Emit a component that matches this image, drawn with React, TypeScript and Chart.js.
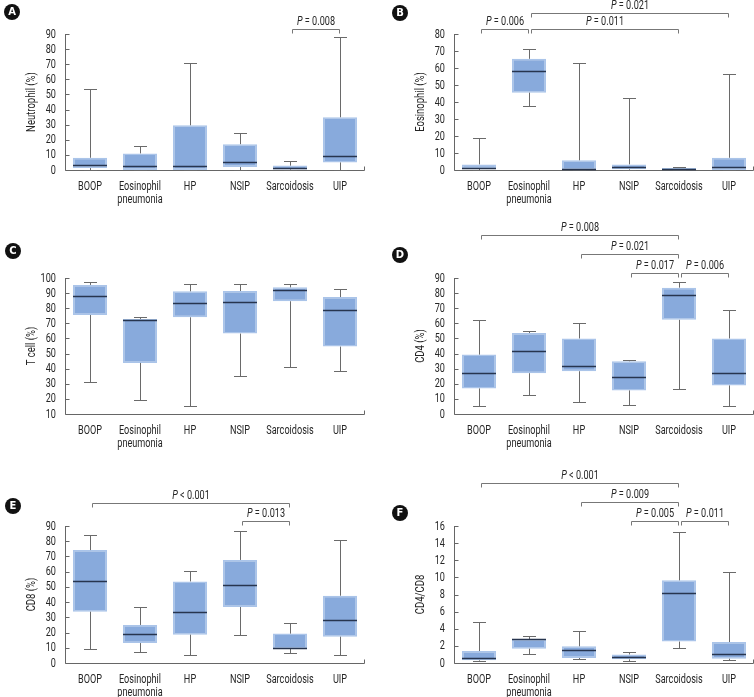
import React, { useEffect, useRef } from 'react';
import { Chart, registerables } from 'chart.js';

Chart.register(...registerables);

const categories: string[][] = [['BOOP'], ['Eosinophil', 'pneumonia'], ['HP'], ['NSIP'], ['Sarcoidosis'], ['UIP']];

// Neutrophil (%)
const neutrophilMin = [0, 0, 0, 0, 0, 0];
const neutrophilQ1 = [1.3, 0, 0, 2, 0.4, 5];
const neutrophilMedian = [3.3, 2.9, 2.9, 5.3, 1.3, 9.4];
const neutrophilQ3 = [8.1, 11, 29.6, 17.1, 2.9, 34.9];
const neutrophilMax = [53.6, 16, 70.5, 24.4, 6.1, 88];
const neutrophilTests = [{ from: 4, to: 5, p: '0.008', op: '=', level: 0 }];

// Eosinophil (%)
const eosinophilMin = [0, 37.7, 0, 0, 0, 0];
const eosinophilQ1 = [1, 45.5, 0, 0.4, 0, 0];
const eosinophilMedian = [1.4, 58.3, 0.6, 1.6, 0.6, 2];
const eosinophilQ3 = [3.3, 65.4, 5.7, 3.3, 1.2, 7.2];
const eosinophilMax = [18.7, 71, 62.8, 42.1, 2, 56.6];
const eosinophilTests = [
  { from: 0, to: 1, p: '0.006', op: '=', level: 0 },
  { from: 1, to: 4, p: '0.011', op: '=', level: 0 },
  { from: 1, to: 5, p: '0.021', op: '=', level: 1 },
];

// T cell (%)
const tcellMin = [31.4, 19, 15.3, 35.1, 41.1, 38.7];
const tcellQ1 = [75.5, 43.8, 74, 63.2, 84.6, 54.6];
const tcellMedian = [88.1, 72, 83.7, 84.1, 92.1, 78.8];
const tcellQ3 = [95.4, 72.9, 91.2, 91.4, 93.8, 87.4];
const tcellMax = [97.6, 74.2, 96, 96, 96, 92.5];
const tcellTests: { from: number; to: number; p: string; op: string; level: number }[] = [];

// CD4 (%)
const cd4Min = [5, 12.5, 7.9, 5.7, 16.7, 5.5];
const cd4Q1 = [16.9, 27, 28.3, 15.6, 62.3, 18.9];
const cd4Median = [27, 41.5, 31.6, 24.4, 79, 27];
const cd4Q3 = [39.3, 53.6, 50, 34.9, 83.6, 50];
const cd4Max = [61.9, 55.1, 60.4, 35.6, 87.6, 69.1];
const cd4Tests = [
  { from: 3, to: 4, p: '0.017', op: '=', level: 0 },
  { from: 4, to: 5, p: '0.006', op: '=', level: 0 },
  { from: 2, to: 4, p: '0.021', op: '=', level: 1 },
  { from: 0, to: 4, p: '0.008', op: '=', level: 2 },
];

// CD8 (%)
const cd8Min = [9, 7, 5, 18.2, 6.4, 5];
const cd8Q1 = [33.7, 13.1, 18.6, 36.8, 9.2, 17.3];
const cd8Median = [53.6, 19, 33.5, 51, 10.1, 28.5];
const cd8Q3 = [74.2, 25, 53.6, 67.7, 19.3, 44.2];
const cd8Max = [84.3, 36.6, 60.2, 86.9, 26.5, 81];
const cd8Tests = [
  { from: 3, to: 4, p: '0.013', op: '=', level: 0 },
  { from: 0, to: 4, p: '0.001', op: '<', level: 1 },
];

// CD4/CD8
const ratioMin = [0.2, 1.05, 0.47, 0.2, 1.71, 0.31];
const ratioQ1 = [0.31, 1.67, 0.58, 0.43, 2.5, 0.5];
const ratioMedian = [0.55, 2.78, 1.48, 0.74, 8.14, 1.0];
const ratioQ3 = [1.4, 2.8, 1.95, 1.0, 9.65, 2.45];
const ratioMax = [4.83, 3.15, 3.7, 1.25, 15.26, 10.67];
const ratioTests = [
  { from: 3, to: 4, p: '0.005', op: '=', level: 0 },
  { from: 4, to: 5, p: '0.011', op: '=', level: 0 },
  { from: 2, to: 4, p: '0.009', op: '=', level: 1 },
  { from: 0, to: 4, p: '0.001', op: '<', level: 2 },
];

const FONT = "Roboto, 'Liberation Sans', sans-serif";
const SX = 0.76; // horizontal condensing of the narrow typeface
const BOX_FILL = '#88aadc';
const BOX_BORDER = '#aac4e9';
const MEDIAN = '#27354f';
const WHISKER = '#6a6a6a';
const AXIS = '#666666';
const TEXT = '#262626';

type Test = { from: number; to: number; p: string; op: string; level: number };
type PanelSpec = {
  letter: string;
  title: string;
  yMin: number;
  yMax: number;
  step: number;
  lo: number[];
  q1: number[];
  med: number[];
  q3: number[];
  hi: number[];
  tests: Test[];
  gap: number;
  left: number;
  top: number;
  width: number;
  height: number;
  area: { left: number; right: number; top: number; bottom: number };
  badge: { x: number; y: number };
};

const panels: PanelSpec[] = [
  {
    letter: 'A', title: 'Neutrophil (%)', yMin: 0, yMax: 90, step: 10,
    lo: neutrophilMin, q1: neutrophilQ1, med: neutrophilMedian, q3: neutrophilQ3, hi: neutrophilMax, tests: neutrophilTests, gap: 19,
    left: 0, top: 0, width: 377, height: 230, area: { left: 65, right: 365, top: 34, bottom: 170 }, badge: { x: 12, y: 12 },
  },
  {
    letter: 'B', title: 'Eosinophil (%)', yMin: 0, yMax: 80, step: 10,
    lo: eosinophilMin, q1: eosinophilQ1, med: eosinophilMedian, q3: eosinophilQ3, hi: eosinophilMax, tests: eosinophilTests, gap: 16,
    left: 377, top: 0, width: 377, height: 230, area: { left: 77, right: 377, top: 34, bottom: 170 }, badge: { x: 400, y: 13 },
  },
  {
    letter: 'C', title: 'T cell (%)', yMin: 10, yMax: 100, step: 10,
    lo: tcellMin, q1: tcellQ1, med: tcellMedian, q3: tcellQ3, hi: tcellMax, tests: tcellTests, gap: 19,
    left: 0, top: 230, width: 377, height: 230, area: { left: 65, right: 365, top: 48, bottom: 184 }, badge: { x: 13, y: 251 },
  },
  {
    letter: 'D', title: 'CD4 (%)', yMin: 0, yMax: 90, step: 10,
    lo: cd4Min, q1: cd4Q1, med: cd4Median, q3: cd4Q3, hi: cd4Max, tests: cd4Tests, gap: 19,
    left: 377, top: 212, width: 377, height: 248, area: { left: 77, right: 377, top: 66, bottom: 202 }, badge: { x: 400, y: 255 },
  },
  {
    letter: 'E', title: 'CD8 (%)', yMin: 0, yMax: 90, step: 10,
    lo: cd8Min, q1: cd8Q1, med: cd8Median, q3: cd8Q3, hi: cd8Max, tests: cd8Tests, gap: 18,
    left: 0, top: 460, width: 377, height: 237, area: { left: 65, right: 365, top: 66, bottom: 203 }, badge: { x: 13, y: 506 },
  },
  {
    letter: 'F', title: 'CD4/CD8', yMin: 0, yMax: 16, step: 2,
    lo: ratioMin, q1: ratioQ1, med: ratioMedian, q3: ratioQ3, hi: ratioMax, tests: ratioTests, gap: 19,
    left: 377, top: 460, width: 377, height: 237, area: { left: 77, right: 377, top: 66, bottom: 203 }, badge: { x: 400, y: 513 },
  },
];

function narrowText(ctx: any, text: string, x: number, y: number, align: string, baseline: string, font: string) {
  ctx.save();
  ctx.translate(x, y);
  ctx.scale(SX, 1);
  ctx.font = font;
  ctx.textAlign = align;
  ctx.textBaseline = baseline;
  ctx.fillText(text, 0, 0);
  ctx.restore();
}

function makePlugin(spec: PanelSpec) {
  return {
    id: 'boxExtras' + spec.letter,
    afterDatasetsDraw(chart: any) {
      const { ctx, chartArea } = chart;
      const x = chart.scales.x;
      const y = chart.scales.y;
      const meta = chart.getDatasetMeta(0);
      ctx.save();
      // axes
      ctx.strokeStyle = AXIS;
      ctx.lineWidth = 1;
      ctx.beginPath();
      const lx = Math.round(chartArea.left) + 0.5;
      const by = Math.round(chartArea.bottom) + 0.5;
      const rx = Math.round(chartArea.right) - 0.5;
      ctx.moveTo(lx, Math.round(chartArea.top));
      ctx.lineTo(lx, by);
      ctx.lineTo(rx, by);
      ctx.lineTo(rx, by - 4);
      y.ticks.forEach((t: any) => {
        const py = Math.round(y.getPixelForValue(t.value)) + 0.5;
        ctx.moveTo(lx, py);
        ctx.lineTo(lx + 4, py);
      });
      ctx.stroke();

      // whiskers
      ctx.strokeStyle = WHISKER;
      ctx.lineWidth = 1;
      spec.hi.forEach((_v, i) => {
        const cx = Math.round(x.getPixelForValue(i)) + 0.5;
        const yHi = Math.round(y.getPixelForValue(spec.hi[i])) + 0.5;
        const yQ3 = y.getPixelForValue(spec.q3[i]);
        const yQ1 = y.getPixelForValue(spec.q1[i]);
        const yLo = Math.round(y.getPixelForValue(spec.lo[i])) + 0.5;
        ctx.beginPath();
        ctx.moveTo(cx, yHi);
        ctx.lineTo(cx, yQ3);
        ctx.moveTo(cx - 6.5, yHi);
        ctx.lineTo(cx + 6.5, yHi);
        ctx.moveTo(cx, yQ1);
        ctx.lineTo(cx, yLo);
        ctx.moveTo(cx - 6.5, yLo);
        ctx.lineTo(cx + 6.5, yLo);
        ctx.stroke();
      });

      // medians
      ctx.strokeStyle = MEDIAN;
      ctx.lineWidth = 1.3;
      spec.med.forEach((m, i) => {
        const el = meta.data[i];
        const w = el.width;
        const cx = x.getPixelForValue(i);
        const py = Math.round(y.getPixelForValue(m)) + 0.5;
        ctx.beginPath();
        ctx.moveTo(cx - w / 2, py);
        ctx.lineTo(cx + w / 2, py);
        ctx.stroke();
      });

      ctx.fillStyle = TEXT;
      // y tick labels
      y.ticks.forEach((t: any) => {
        const py = y.getPixelForValue(t.value);
        narrowText(ctx, String(t.value), chartArea.left - 9, py + 0.5, 'right', 'middle', `12px ${FONT}`);
      });
      // x tick labels
      const labels = x.getLabels();
      labels.forEach((lab: any, i: number) => {
        const cx = x.getPixelForValue(i);
        const lines = Array.isArray(lab) ? lab : [lab];
        lines.forEach((ln: string, k: number) => {
          narrowText(ctx, ln, cx, chartArea.bottom + 19.5 + k * 13.5, 'center', 'alphabetic', `12px ${FONT}`);
        });
      });

      // y title
      ctx.save();
      ctx.translate(chartArea.left - 33, (chartArea.top + chartArea.bottom) / 2);
      ctx.rotate(-Math.PI / 2);
      ctx.scale(SX, 1);
      ctx.font = `12.5px ${FONT}`;
      ctx.textAlign = 'center';
      ctx.textBaseline = 'middle';
      ctx.fillText(spec.title, 0, 0);
      ctx.restore();

      // significance brackets
      spec.tests.forEach((t) => {
        const yy = Math.round(chartArea.top - 5 - t.level * spec.gap) + 0.5;
        const x1 = Math.round(x.getPixelForValue(t.from) + 1.5) + 0.5;
        const x2 = Math.round(x.getPixelForValue(t.to) - 1.5) + 0.5;
        ctx.strokeStyle = '#777777';
        ctx.lineWidth = 1;
        ctx.beginPath();
        ctx.moveTo(x1, yy + 4);
        ctx.lineTo(x1, yy);
        ctx.lineTo(x2, yy);
        ctx.lineTo(x2, yy + 4);
        ctx.stroke();
        const italic = `italic 12px ${FONT}`;
        const normal = `12px ${FONT}`;
        const rest = ` ${t.op} ${t.p}`;
        ctx.font = italic;
        const wp = ctx.measureText('P').width * SX;
        ctx.font = normal;
        const wr = ctx.measureText(rest).width * SX;
        const startX = (x1 + x2) / 2 - (wp + wr) / 2;
        ctx.fillStyle = TEXT;
        narrowText(ctx, 'P', startX, yy - 8, 'left', 'middle', italic);
        narrowText(ctx, rest, startX + wp, yy - 8, 'left', 'middle', normal);
      });
      ctx.restore();
    },
  };
}

function BoxPanel({ spec }: { spec: PanelSpec }) {
  const ref = useRef<HTMLCanvasElement | null>(null);
  useEffect(() => {
    if (!ref.current) return;
    const a = spec.area;
    const chart = new Chart(ref.current, {
      type: 'bar',
      data: {
        labels: categories as any,
        datasets: [
          {
            data: spec.q1.map((v, i) => [v, spec.q3[i]]) as any,
            backgroundColor: BOX_FILL,
            borderColor: BOX_BORDER,
            borderWidth: 1.5,
            borderSkipped: false,
            barPercentage: 0.68,
            categoryPercentage: 1,
          },
        ],
      },
      options: {
        responsive: false,
        animation: false,
        events: [],
        layout: {
          autoPadding: false,
          padding: { left: 0, top: a.top, right: spec.width - a.right, bottom: 0 },
        },
        plugins: { legend: { display: false }, tooltip: { enabled: false }, title: { display: false } },
        scales: {
          x: {
            type: 'category',
            offset: true,
            grid: { display: false, drawTicks: false },
            border: { display: false },
            ticks: { display: false, autoSkip: false, maxRotation: 0, minRotation: 0 },
            afterFit: (scale: any) => {
              scale.height = spec.height - a.bottom;
            },
          },
          y: {
            type: 'linear',
            min: spec.yMin,
            max: spec.yMax,
            grid: { display: false, drawTicks: false },
            border: { display: false },
            ticks: { display: false, stepSize: spec.step, autoSkip: false },
            afterFit: (scale: any) => {
              scale.width = a.left;
            },
          },
        },
      },
      plugins: [makePlugin(spec)],
    } as any);
    return () => chart.destroy();
  }, [spec]);
  return (
    <canvas
      ref={ref}
      width={spec.width}
      height={spec.height}
      style={{ position: 'absolute', left: spec.left, top: spec.top, width: spec.width, height: spec.height }}
    />
  );
}

export default function App() {
  return (
    <div style={{ position: 'absolute', left: 0, top: 0, width: 754, height: 697, background: '#ffffff', overflow: 'hidden' }}>
      {panels.map((p) => (
        <BoxPanel key={p.letter} spec={p} />
      ))}
      {panels.map((p) => (
        <div
          key={'b' + p.letter}
          style={{
            position: 'absolute',
            left: p.badge.x - 8,
            top: p.badge.y - 8,
            width: 16,
            height: 16,
            borderRadius: 8,
            background: '#111',
            color: '#fff',
            fontFamily: "'DejaVu Sans', sans-serif",
            fontWeight: 'bold',
            fontSize: 10,
            lineHeight: '16px',
            textAlign: 'center',
          }}
        >
          {p.letter}
        </div>
      ))}
    </div>
  );
}
